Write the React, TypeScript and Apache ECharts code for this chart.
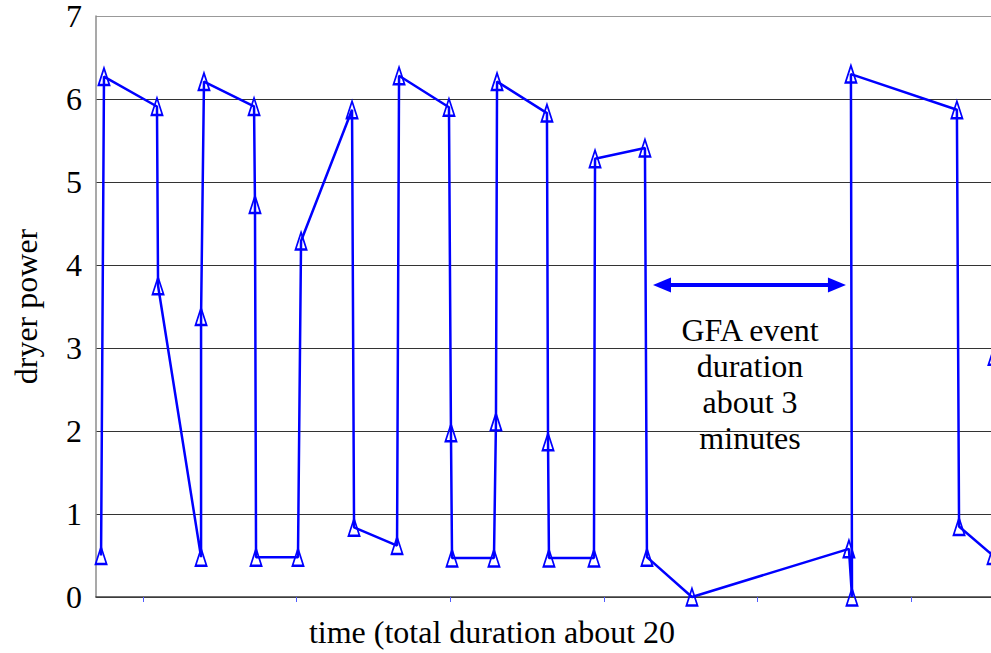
import React, { useEffect, useRef } from "react";
import * as echarts from "echarts";

// time in arbitrary sample units (ticks every 10 units)
const timeValues = [
  7.27, 7.46, 10.91, 10.98, 13.78, 13.78, 13.97, 17.23, 17.29, 17.36, 20.09,
  20.29, 23.61, 23.74, 26.54, 26.67, 29.92, 30.05, 30.12, 32.85, 32.98, 33.05,
  36.3, 36.37, 36.43, 39.36, 39.43, 42.68, 42.81, 45.74, 55.96, 56.16, 56.09,
  62.99, 63.13, 65.34, 65.4,
];
const powerValues = [
  0.5, 6.27, 5.91, 3.75, 0.48, 3.38, 6.21, 5.91, 4.73, 0.48, 0.48, 4.29, 5.87,
  0.84, 0.62, 6.28, 5.9, 1.98, 0.47, 0.47, 2.11, 6.21, 5.83, 1.87, 0.47, 0.47,
  5.28, 5.41, 0.48, 0, 0.58, 0, 6.3, 5.87, 0.85, 0.5, 2.9,
];
const xTicks = [10, 20, 30, 40, 50, 60];
const xMin = 6.94;
const xMax = 65.21;
const gfaArrow = { start: 43.79, end: 55.18, level: 3.76 };
const gfaText = "GFA event\nduration\nabout 3\nminutes";
const yAxisName = "dryer power";
const xAxisName = "time (total duration about 20";

const FONT = "'Liberation Serif', 'Times New Roman', serif";

export default function App() {
  const ref = useRef<HTMLDivElement>(null);
  useEffect(() => {
    if (!ref.current) return;
    const chart = echarts.init(ref.current, null, { renderer: "svg" });
    const data = timeValues.map((t, i) => [t, powerValues[i]]);
    chart.setOption({
      animation: false,
      backgroundColor: "#ffffff",
      grid: { left: 96, top: 14, right: 0, height: 583, show: false },
      xAxis: {
        type: "value",
        min: xMin,
        max: xMax,
        axisLine: { show: true, onZero: false, lineStyle: { color: "#404040", width: 1.5 } },
        axisTick: {
          show: true,
          customValues: xTicks,
          length: 5,
          lineStyle: { color: "#4f5bff", width: 1 },
        },
        axisLabel: { show: false },
        splitLine: { show: false },
      },
      yAxis: {
        type: "value",
        min: 0,
        max: 7,
        interval: 1,
        name: yAxisName,
        nameLocation: "middle",
        nameGap: 54,
        nameTextStyle: { fontFamily: FONT, fontSize: 32, color: "#000" },
        axisLine: { show: true, lineStyle: { color: "#8c8c8c", width: 1.5 } },
        axisTick: { show: false },
        axisLabel: {
          fontFamily: FONT,
          fontSize: 32,
          lineHeight: 24,
          padding: [4, 0, 0, 0],
          color: "#000",
          margin: 14,
        },
        splitLine: {
          show: true,
          lineStyle: {
            color: ["#333", "#333", "#333", "#333", "#333", "#333", "#333", "#999"],
            width: 1,
          },
        },
      },
      series: [
        {
          type: "line",
          data,
          clip: false,
          showAllSymbol: true,
          symbol: "triangle",
          symbolSize: [11, 17],
          lineStyle: { color: "#0000ff", width: 2.5 },
          itemStyle: { color: "rgba(255,255,255,0)", borderColor: "#0000ff", borderWidth: 2 },
          markLine: {
            silent: true,
            symbol: ["triangle", "triangle"],
            symbolSize: [15, 18],
            label: { show: false },
            lineStyle: { color: "#0000ff", width: 4, type: "solid" },
            data: [
              [
                { coord: [gfaArrow.start, gfaArrow.level] },
                { coord: [gfaArrow.end, gfaArrow.level] },
              ],
            ],
          },
        },
      ],
      graphic: [
        {
          type: "text",
          x: 750,
          y: 312,
          style: {
            text: gfaText,
            fontFamily: FONT,
            fontSize: 32,
            lineHeight: 36,
            fill: "#000",
            align: "center",
            verticalAlign: "top",
          },
        },
        {
          type: "text",
          x: 492,
          y: 632,
          style: {
            text: xAxisName,
            fontFamily: FONT,
            fontSize: 32,
            fill: "#000",
            align: "center",
            verticalAlign: "middle",
          },
        },
      ],
    });
    return () => chart.dispose();
  }, []);
  return (
    <div
      ref={ref}
      style={{ position: "absolute", left: 0, top: 0, width: 991, height: 653 }}
    />
  );
}
